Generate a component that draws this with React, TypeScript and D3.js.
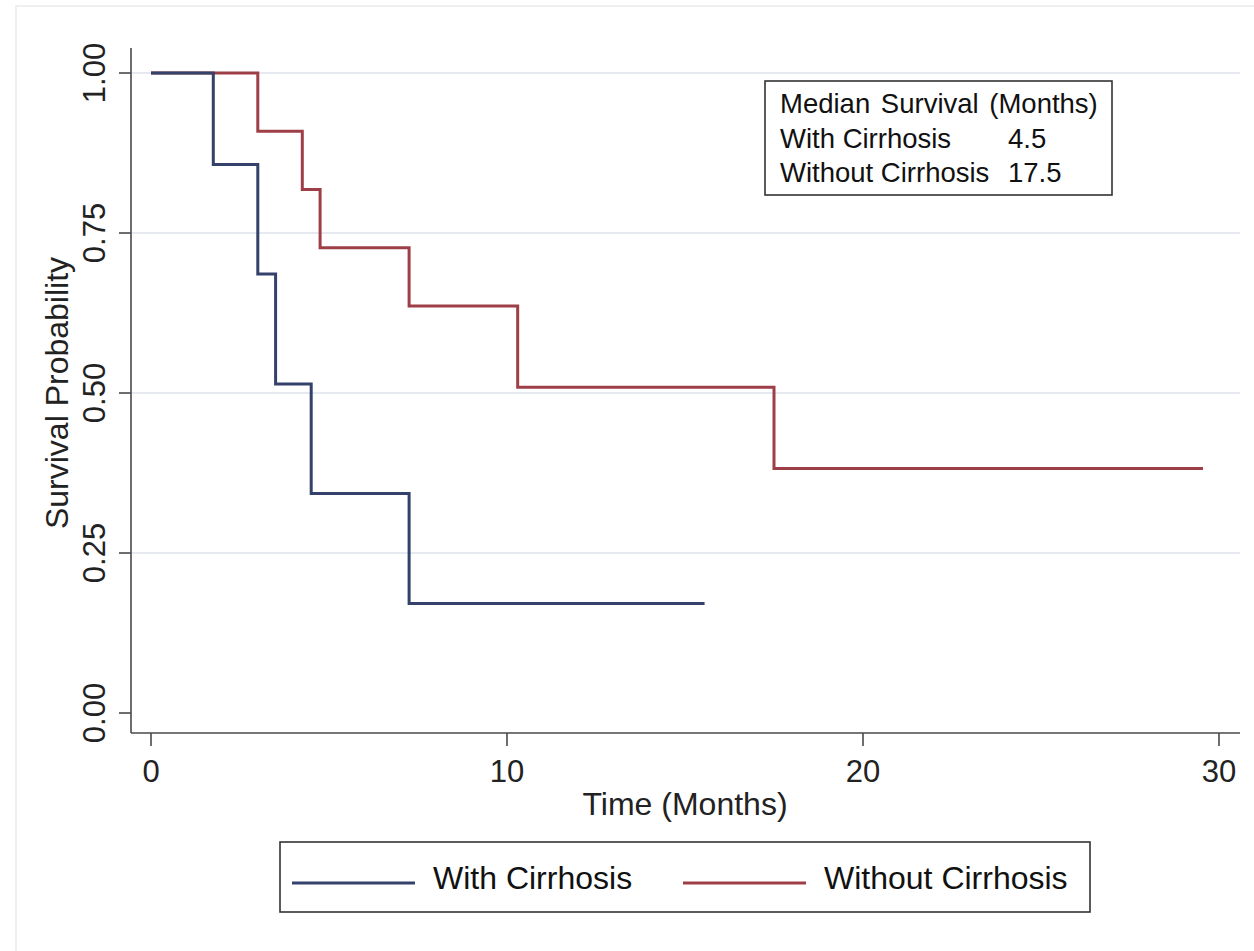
import React from "react";
import * as d3 from "d3";

const withTimes = [0, 1.75, 3.0, 3.5, 4.5, 7.25, 15.55];
const withSurv = [1, 0.857, 0.686, 0.514, 0.343, 0.171, 0.171];
const withoutTimes = [0, 3.0, 4.25, 4.75, 7.25, 10.3, 17.5, 29.55];
const withoutSurv = [1, 0.909, 0.818, 0.727, 0.636, 0.509, 0.382, 0.382];
const xTicks = [0, 10, 20, 30];
const yTicks = [0, 0.25, 0.5, 0.75, 1];
const seriesNames = ["With Cirrhosis", "Without Cirrhosis"];
const medianLabels = ["With Cirrhosis", "Without Cirrhosis"];
const medianValues = ["4.5", "17.5"];

const FONT = "'Liberation Sans', Arial, Helvetica, sans-serif";
const BLUE = "#34416b";
const RED = "#9e3f48";
const AXIS = "#4a4a4a";

export default function App() {
  const x = d3.scaleLinear().domain([0, 30]).range([151, 1219]);
  const y = d3.scaleLinear().domain([0, 1]).range([713, 73]);
  const line = d3
    .line<[number, number]>()
    .x((d) => x(d[0]))
    .y((d) => y(d[1]))
    .curve(d3.curveStepAfter);
  const withPts = withTimes.map((t, i) => [t, withSurv[i]] as [number, number]);
  const withoutPts = withoutTimes.map((t, i) => [t, withoutSurv[i]] as [number, number]);

  const axisX0 = 131;
  const axisX1 = 1240;
  const axisY = 733;
  const axisTop = 48;

  return (
    <svg
      width={1254}
      height={951}
      style={{ position: "absolute", left: 0, top: 0, background: "#fff" }}
      fontFamily={FONT}
    >
      <rect x={0} y={0} width={1254} height={951} fill="#fff" />
      <path d="M16,951 L16,6 L1254,6" fill="none" stroke="#efefef" strokeWidth={2} />
      {yTicks
        .filter((t) => t > 0)
        .map((t) => (
          <line
            key={"g" + t}
            x1={axisX0}
            x2={axisX1}
            y1={y(t)}
            y2={y(t)}
            stroke="#e6e9ef"
            strokeWidth={2}
          />
        ))}
      <line x1={axisX0} x2={axisX0} y1={axisTop} y2={axisY} stroke={AXIS} strokeWidth={1.6} />
      <line x1={axisX0} x2={axisX1} y1={axisY} y2={axisY} stroke={AXIS} strokeWidth={1.6} />
      {yTicks.map((t) => (
        <g key={"yt" + t}>
          <line x1={axisX0 - 12} x2={axisX0} y1={y(t)} y2={y(t)} stroke={AXIS} strokeWidth={1.6} />
          <text
            transform={`translate(105,${y(t)}) rotate(-90)`}
            textAnchor="middle"
            fontSize={31}
            fill="#222"
          >
            {t.toFixed(2)}
          </text>
        </g>
      ))}
      {xTicks.map((t) => (
        <g key={"xt" + t}>
          <line x1={x(t)} x2={x(t)} y1={axisY} y2={axisY + 13} stroke={AXIS} strokeWidth={1.6} />
          <text x={x(t)} y={782} textAnchor="middle" fontSize={31} fill="#222">
            {t}
          </text>
        </g>
      ))}
      <text x={685} y={815} textAnchor="middle" fontSize={32} fill="#222">
        Time (Months)
      </text>
      <text
        transform={`translate(68,393) rotate(-90)`}
        textAnchor="middle"
        fontSize={32}
        fill="#222"
      >
        Survival Probability
      </text>
      <path d={line(withoutPts) || ""} fill="none" stroke={RED} strokeWidth={3} />
      <path d={line(withPts) || ""} fill="none" stroke={BLUE} strokeWidth={3} />
      <rect x={765} y={81} width={347} height={114} fill="#fff" stroke="#333" strokeWidth={1.6} />
      <text x={780} y={113} fontSize={27.5} fill="#111" wordSpacing={3}>
        Median Survival (Months)
      </text>
      {medianLabels.map((lab, i) => (
        <g key={"m" + i}>
          <text x={780} y={148 + i * 34} fontSize={27.5} fill="#111">
            {lab}
          </text>
          <text x={1008} y={148 + i * 34} fontSize={27.5} fill="#111">
            {medianValues[i]}
          </text>
        </g>
      ))}
      <rect x={280} y={842} width={810} height={70} fill="#fff" stroke="#333" strokeWidth={1.6} />
      {seriesNames.map((name, i) => {
        const lx = i === 0 ? 292 : 683;
        return (
          <g key={"l" + i}>
            <line x1={lx} x2={lx + 123} y1={883} y2={883} stroke={i === 0 ? BLUE : RED} strokeWidth={3} />
            <text x={lx + 141} y={889} fontSize={32} fill="#111">
              {name}
            </text>
          </g>
        );
      })}
    </svg>
  );
}
